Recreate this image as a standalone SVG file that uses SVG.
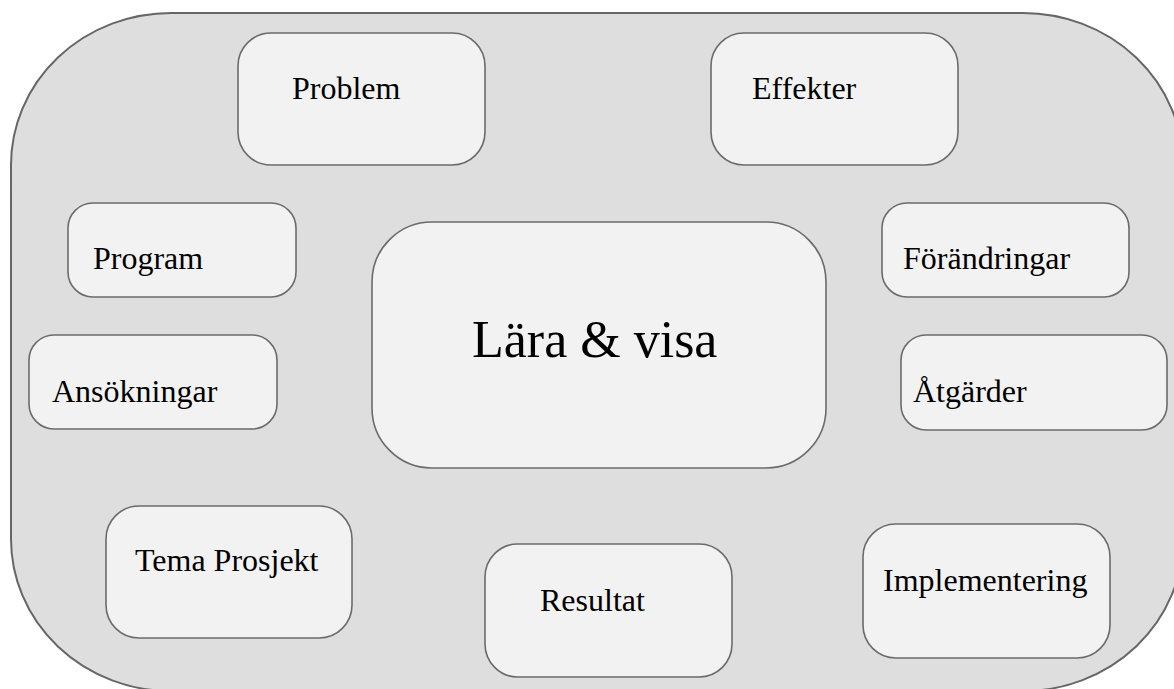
<svg xmlns="http://www.w3.org/2000/svg" width="1174" height="689" viewBox="0 0 1174 689">
<style>
.bg{fill:#dedede;stroke:#666;stroke-width:2}
.box{fill:#f2f2f2;stroke:#6b6b6b;stroke-width:1.6}
.t{font-family:"Liberation Serif","Times New Roman",serif;font-size:32px;fill:#000}
.big{font-size:52px}
</style>
<rect width="1174" height="689" fill="#ffffff"/>
<g id="background">
<rect class="bg" x="11" y="13" width="1172" height="678" rx="160" ry="152"/>
</g>
<g id="connectors"></g>
<g id="n-problem"><rect class="box" x="238" y="33" width="247" height="132" rx="33"/><text class="t" x="292" y="99">Problem</text></g>
<g id="n-effekter"><rect class="box" x="711" y="33" width="247" height="132" rx="33"/><text class="t" x="752" y="99">Effekter</text></g>
<g id="n-program"><rect class="box" x="68" y="203" width="228" height="94" rx="25"/><text class="t" x="93" y="269">Program</text></g>
<g id="n-forandringar"><rect class="box" x="882" y="203" width="247" height="94" rx="25"/><text class="t" x="903" y="269">Förändringar</text></g>
<g id="n-ansokningar"><rect class="box" x="29" y="335" width="248" height="94" rx="25"/><text class="t" x="52" y="402">Ansökningar</text></g>
<g id="n-atgarder"><rect class="box" x="901" y="335" width="266" height="95" rx="25"/><text class="t" x="913" y="402">Åtgärder</text></g>
<g id="n-lara"><rect class="box" x="372" y="222" width="454" height="246" rx="60"/><text class="t big" x="472" y="357">Lära &amp; visa</text></g>
<g id="n-tema"><rect class="box" x="106" y="506" width="246" height="132" rx="33"/><text class="t" x="135" y="571">Tema Prosjekt</text></g>
<g id="n-resultat"><rect class="box" x="485" y="544" width="247" height="133" rx="33"/><text class="t" x="540" y="611">Resultat</text></g>
<g id="n-implementering"><rect class="box" x="863" y="524" width="247" height="134" rx="33"/><text class="t" x="883" y="591">Implementering</text></g>
</svg>
